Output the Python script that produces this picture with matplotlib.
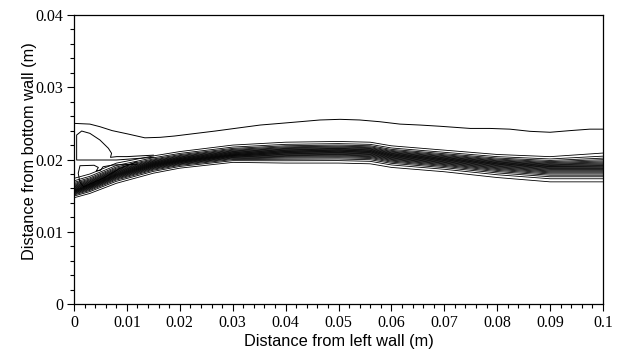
import numpy as np
import matplotlib
matplotlib.use('Agg')
import matplotlib.pyplot as plt
from matplotlib.ticker import MultipleLocator

# band of dense contours: x stations and edge / core heights (m)
band_x = [0, 0.003, 0.008, 0.015, 0.02, 0.03, 0.04, 0.05, 0.056, 0.06, 0.07, 0.08, 0.09, 0.1]
band_top = [0.0174, 0.0180, 0.0195, 0.0205, 0.0211, 0.0220, 0.0224, 0.0225, 0.0224, 0.0219, 0.0213, 0.0207, 0.0204, 0.0209]
band_core = [0.0158, 0.0165, 0.0180, 0.0193, 0.0199, 0.0207, 0.0210, 0.0211, 0.0210, 0.0205, 0.0199, 0.0193, 0.0189, 0.0189]
band_bot = [0.0147, 0.0153, 0.0167, 0.0181, 0.0188, 0.0196, 0.0195, 0.0195, 0.0194, 0.0189, 0.0183, 0.0175, 0.0169, 0.0169]
n_levels = 24

# single upper contour
upper_x = [0, 0.003, 0.0049, 0.0072, 0.0102, 0.0134, 0.0163, 0.019, 0.0229, 0.0267, 0.0314,
           0.0352, 0.039, 0.0427, 0.0465, 0.0503, 0.054, 0.0578, 0.0616, 0.0654, 0.0692,
           0.0749, 0.0786, 0.0824, 0.0862, 0.09, 0.0938, 0.0975, 0.1]
upper_y = [0.0250, 0.0249, 0.02454, 0.0240, 0.02353, 0.0230, 0.02307, 0.02325, 0.0236, 0.02394, 0.0244,
           0.02477, 0.0250, 0.02523, 0.02547, 0.02556, 0.02547, 0.02523, 0.0249, 0.02477, 0.0246,
           0.0243, 0.0243, 0.0242, 0.0239, 0.02377, 0.0240, 0.0242, 0.0242]

# recirculation loops near the left wall
loop1_x = [0.015, 0.01, 0.0081, 0.0069, 0.0071, 0.0065, 0.0049, 0.003, 0.00145, 0.0005, 0.0005, 0.008, 0.015]
loop1_y = [0.0206, 0.0204, 0.0204, 0.0203, 0.02086, 0.02155, 0.0227, 0.02362, 0.02394, 0.02339, 0.01993, 0.01993, 0.0203]
loop2_x = [0.0119, 0.0074, 0.0055, 0.0050, 0.0042, 0.0046, 0.0038, 0.00113, 0.0008, 0.0011, 0.0018, 0.0055, 0.0087, 0.0119]
loop2_y = [0.01934, 0.01924, 0.0190, 0.0185, 0.0184, 0.0189, 0.0192, 0.01914, 0.0181, 0.0169, 0.01623, 0.0174, 0.01878, 0.0197]

plt.rcParams['font.family'] = 'Liberation Serif'
fig = plt.figure(figsize=(6.26, 3.56), dpi=100)
ax = fig.add_axes([74/626, 1 - 304/356, 529/626, 289/356])

# build the field for the band from the read stations
gx = np.linspace(0, 0.1, 500)
gy = np.linspace(0.012, 0.027, 700)
X, Y = np.meshgrid(gx, gy)
top = np.interp(gx, band_x, band_top)[None, :]
core = np.interp(gx, band_x, band_core)[None, :]
bot = np.interp(gx, band_x, band_bot)[None, :]
s = np.where(Y >= core, (Y - core) / (top - core), (Y - core) / (core - bot))
k = 1.5
Z = np.tanh(k * s)
lev = np.linspace(-np.tanh(k) * 0.999, np.tanh(k) * 0.999, n_levels)
ax.contour(X, Y, Z, levels=lev, colors='k', linewidths=0.6, linestyles='solid')

ax.plot(upper_x, upper_y, color='k', lw=0.7)
ax.plot(loop1_x, loop1_y, color='k', lw=0.7)
ax.plot(loop2_x, loop2_y, color='k', lw=0.7)

ax.set_xlim(0, 0.1)
ax.set_ylim(0, 0.04)
ax.xaxis.set_minor_locator(MultipleLocator(0.002))
ax.yaxis.set_minor_locator(MultipleLocator(0.002))
ax.set_xticks(np.arange(0, 0.1001, 0.01))
ax.set_xticklabels(['0', '0.01', '0.02', '0.03', '0.04', '0.05', '0.06', '0.07', '0.08', '0.09', '0.1'])
ax.set_yticks(np.arange(0, 0.0401, 0.01))
ax.set_yticklabels(['0', '0.01', '0.02', '0.03', '0.04'])
ax.tick_params(which='major', direction='out', length=5, width=0.8, labelsize=11.5, pad=3)
ax.tick_params(which='minor', direction='out', length=3, width=0.8)
for sp in ax.spines.values():
    sp.set_linewidth(0.9)

ax.set_xlabel('Distance from left wall (m)', family='Liberation Sans', fontsize=11.8, labelpad=2)
ax.set_ylabel('Distance from bottom wall (m)', family='Liberation Sans', fontsize=11.8)
ax.yaxis.set_label_coords(-0.07, 0.528)

plt.savefig('out.png', dpi=100)
